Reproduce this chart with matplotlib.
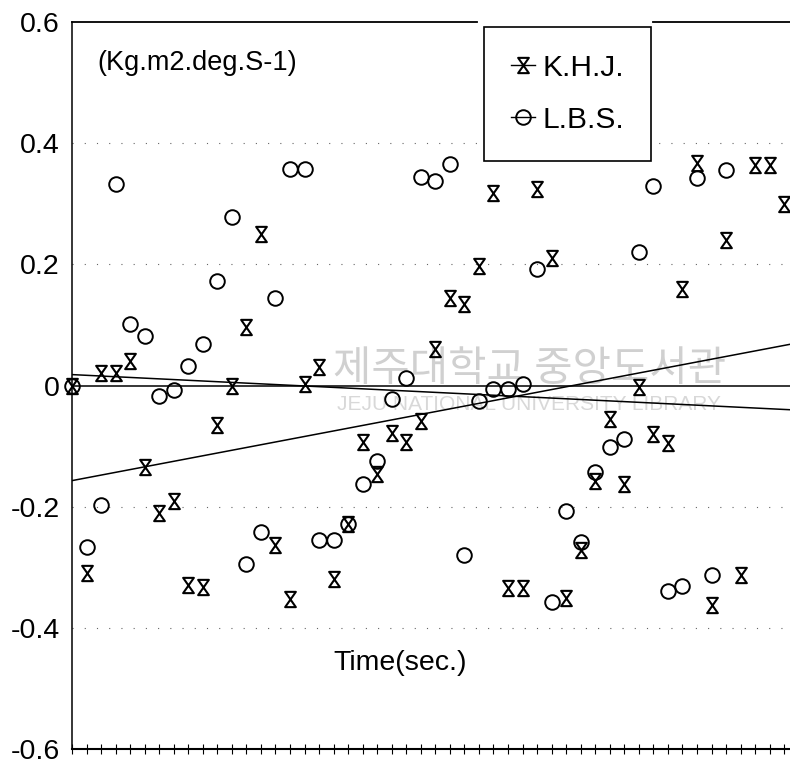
import numpy as np
import matplotlib
matplotlib.use("Agg")
import matplotlib.pyplot as plt
from matplotlib.path import Path
from matplotlib.lines import Line2D

plt.rcParams['font.family'] = ['Liberation Sans', 'Noto Sans CJK KR', 'DejaVu Sans']

# ---- data ----
time_khj = list(range(50))
khj = [0.0, -0.31, 0.02, 0.02, 0.04, -0.135, -0.21, -0.19, -0.33, -0.332,
       -0.065, 0.0, 0.096, 0.25, -0.264, -0.352, 0.003, 0.03, -0.32, -0.229,
       -0.094, -0.146, -0.078, -0.094, -0.058, 0.06, 0.145, 0.135, 0.198, 0.318,
       -0.335, -0.335, 0.325, 0.21, -0.35, -0.272, -0.157, -0.055, -0.162, -0.003,
       -0.08, -0.095, 0.16, 0.367, -0.362, 0.24, -0.312, 0.364, 0.364, 0.30]

time_lbs = list(range(46))
lbs = [0.0, -0.266, -0.198, 0.332, 0.102, 0.081, -0.018, -0.007, 0.032, 0.068,
       0.172, 0.278, -0.294, -0.241, 0.145, 0.357, 0.357, -0.255, -0.255, -0.229,
       -0.162, -0.124, -0.022, 0.012, 0.344, 0.337, 0.365, -0.28, -0.026, -0.005,
       -0.005, 0.003, 0.192, -0.358, -0.207, -0.259, -0.143, -0.102, -0.089, 0.22,
       0.33, -0.34, -0.331, 0.342, -0.313, 0.355]

trend_x = [0, 49.4]
trend_khj = [-0.157, 0.068]
trend_lbs = [0.018, -0.040]

y_ticks = [0.6, 0.4, 0.2, 0.0, -0.2, -0.4, -0.6]
y_labels = ['0.6', '0.4', '0.2', '0', '-0.2', '-0.4', '-0.6']
grid_levels = [0.4, 0.2, -0.2, -0.4]
series_labels = ['K.H.J.', 'L.B.S.']
unit_text = '(Kg.m2.deg.S-1)'
x_title = 'Time(sec.)'
watermark_ko = '제주대학교 중앙도서관'
watermark_en = 'JEJU NATIONAL UNIVERSITY LIBRARY'

# ---- figure ----
W, H = 790, 765
fig = plt.figure(figsize=(W / 100, H / 100), dpi=100)
fig.patch.set_facecolor('white')
ax = fig.add_axes([72 / W, (H - 749) / H, (W - 72) / W, (749 - 22) / H])
ax.set_xlim(0, 49.4)
ax.set_ylim(-0.6, 0.6)

hourglass = Path([(-0.7, 1), (0.7, 1), (-0.7, -1), (0.7, -1), (-0.7, 1)],
                 [Path.MOVETO, Path.LINETO, Path.LINETO, Path.LINETO, Path.CLOSEPOLY])

# watermark (faint)
ax.text(0.637, 0.522, watermark_ko, transform=ax.transAxes, fontsize=30,
        family=['Noto Sans CJK KR'], color='#d0d0d0', ha='center', va='center', zorder=0)
ax.text(0.637, 0.474, watermark_en, transform=ax.transAxes, fontsize=15,
        family=['Liberation Sans'], color='#d8d8d8', ha='center', va='center', zorder=0)

# dotted grid
for g in grid_levels:
    ax.axhline(g, color='#666666', lw=0.8, linestyle=(0, (1, 10)), zorder=1)

# zero line and trend lines
ax.axhline(0.0, color='black', lw=1.1, zorder=2)
ax.plot(trend_x, trend_khj, color='black', lw=1.1, zorder=2)
ax.plot(trend_x, trend_lbs, color='black', lw=1.1, zorder=2)

ax.plot(time_khj, khj, linestyle='none', marker=hourglass, ms=11, mfc='none',
        mec='black', mew=1.5, zorder=3, clip_on=False)
ax.plot(time_lbs, lbs, linestyle='none', marker='o', ms=10.5, mfc='none',
        mec='black', mew=1.4, zorder=3, clip_on=False)

# axes styling
ax.spines['right'].set_visible(False)
ax.spines['top'].set_visible(False)
ax.spines['left'].set_linewidth(1.1)
ax.spines['bottom'].set_linewidth(1.5)
ax.plot([0, 0.564], [1, 1], transform=ax.transAxes, color='black', lw=1.3, clip_on=False)
ax.plot([0.809, 1.0], [1, 1], transform=ax.transAxes, color='black', lw=1.3, clip_on=False)

ax.set_yticks(y_ticks)
ax.set_yticklabels(y_labels, fontsize=20.5)
ax.tick_params(axis='y', length=0, pad=9)
ax.set_xticks(np.arange(0, 50))
ax.set_xticklabels([])
ax.tick_params(axis='x', direction='inout', length=7, width=0.8)

fig.text(97 / W, 1 - 63 / H, unit_text, fontsize=19.5, ha='left', va='center')
fig.text(333 / W, 1 - 663 / H, x_title, fontsize=20.5, ha='left', va='center')

handles = [
    Line2D([], [], color='black', lw=1.0, marker=hourglass, ms=11, mfc='none', mew=1.5),
    Line2D([], [], color='black', lw=1.0, marker='o', ms=10.5, mfc='none', mew=1.4),
]
leg = fig.legend(handles, series_labels, loc='upper left',
                 bbox_to_anchor=(484 / W, 1 - 27 / H), bbox_transform=fig.transFigure,
                 borderaxespad=0, fontsize=21.5, handlelength=0.8, handletextpad=0.25,
                 labelspacing=0.8, borderpad=0.9, fancybox=False, framealpha=1,
                 edgecolor='black')
leg.get_frame().set_linewidth(1.2)

fig.savefig('out.png', dpi=100, facecolor='white')
